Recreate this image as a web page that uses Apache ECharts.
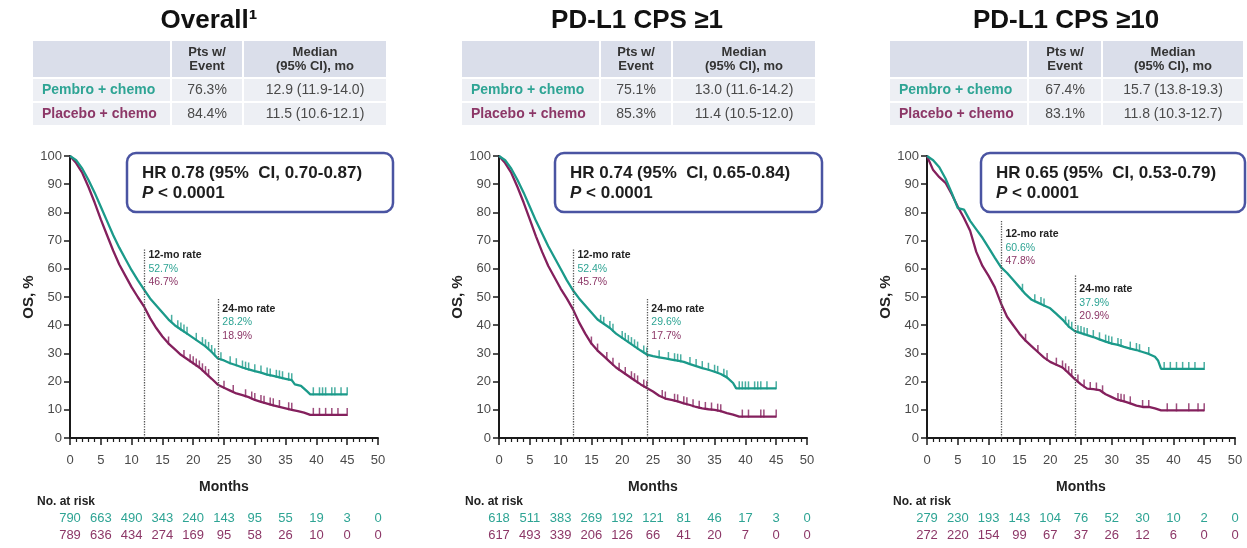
<!DOCTYPE html>
<html>
<head>
<meta charset="utf-8">
<script src="https://cdn.jsdelivr.net/npm/echarts@6/dist/echarts.min.js"></script>
<style>
  html, body { margin: 0; background: #fff; }
  #chart { width: 1247px; height: 548px; }
</style>
</head>
<body>
<div id="chart"></div>
<script>
// ---- data ----
const titles = ["Overall\u00b9", "PD-L1 CPS \u22651", "PD-L1 CPS \u226510"];
const armNames = ["Pembro + chemo", "Placebo + chemo"];
const ptsEvent = [["76.3%", "84.4%"], ["75.1%", "85.3%"], ["67.4%", "83.1%"]];
const medians = [
  ["12.9 (11.9-14.0)", "11.5 (10.6-12.1)"],
  ["13.0 (11.6-14.2)", "11.4 (10.5-12.0)"],
  ["15.7 (13.8-19.3)", "11.8 (10.3-12.7)"]
];
const hrLines = [
  "HR 0.78 (95%  CI, 0.70-0.87)",
  "HR 0.74 (95%  CI, 0.65-0.84)",
  "HR 0.65 (95%  CI, 0.53-0.79)"
];
const pValue = "< 0.0001";
const rate12 = [["52.7%", "46.7%"], ["52.4%", "45.7%"], ["60.6%", "47.8%"]];
const rate24 = [["28.2%", "18.9%"], ["29.6%", "17.7%"], ["37.9%", "20.9%"]];

const riskPembro = [
  [790, 663, 490, 343, 240, 143, 95, 55, 19, 3, 0],
  [618, 511, 383, 269, 192, 121, 81, 46, 17, 3, 0],
  [279, 230, 193, 143, 104, 76, 52, 30, 10, 2, 0]
];
const riskPlacebo = [
  [789, 636, 434, 274, 169, 95, 58, 26, 10, 0, 0],
  [617, 493, 339, 206, 126, 66, 41, 20, 7, 0, 0],
  [272, 220, 154, 99, 67, 37, 26, 12, 6, 0, 0]
];

// KM curves [month, OS %]
const pembroOverall = [[0,100],[1,98.5],[2,95.5],[3,91.5],[4,87],[5,82],[6,77],[7,72],[8,67.5],[9,63.5],[10,59.5],[11,56],[12,52.7],[13,49.5],[14,47],[15,44.5],[16,42],[17,40],[18,38.5],[19,37],[20,35.5],[21,34],[22,32.5],[23,30.5],[24,28.2],[25,27.5],[26,26.5],[27,25.8],[28,25],[29,24.3],[30,23.7],[31,23.2],[32,22.5],[33,22],[34,21.5],[35,21],[36,20.5],[36.5,19],[37.5,18.5],[38.5,16.5],[39,15.5],[45,15.5]];
const placeboOverall = [[0,100],[1,97.5],[2,94],[3,89],[4,83.5],[5,77.5],[6,72],[7,66.5],[8,61.5],[9,57.5],[10,53.5],[11,50],[12,46.7],[13,42.5],[14,39],[15,36],[16,33.5],[17,31.5],[18,29.5],[19,28],[20,26.5],[21,25],[22,23],[23,21],[24,18.9],[25,17.8],[26,16.8],[27,15.8],[28,15.2],[29,14.5],[30,13.5],[31,12.8],[32,12.2],[33,11.6],[34,11],[35,10.5],[36,10],[37,9.5],[38,9],[39,8.2],[45,8.2]];
const pembroCps1 = [[0,100],[1,98.5],[2,95.5],[3,91.5],[4,87],[5,82],[6,77],[7,72.5],[8,68],[9,64],[10,60],[11,56],[12,52.4],[13,49.5],[14,47],[15,44.5],[16,42],[17,40.5],[18,39],[19,37],[20,35.5],[21,34],[22,32.5],[23,31],[24,29.6],[25,29],[26,28.6],[27,28.2],[28,27.8],[29,27.4],[30,27],[31,26.2],[32,25.5],[33,24.8],[34,24.2],[35,23.5],[36,22.7],[37,21.5],[38,19.5],[38.5,17.6],[45,17.6]];
const placeboCps1 = [[0,100],[1,97.5],[2,94],[3,89],[4,83.5],[5,77.5],[6,71.5],[7,66],[8,61],[9,57],[10,53],[11,49.5],[12,45.7],[13,41],[14,37],[15,33.5],[16,31],[17,29],[18,27],[19,25],[20,23.5],[21,22],[22,20.5],[23,19],[24,17.7],[25,16.5],[26,15],[27,14],[28,13.5],[29,13],[30,12.3],[31,11.7],[32,11],[33,10.5],[34,10.2],[35,10],[36,9.5],[37,8.8],[38,8.3],[39,7.6],[45,7.6]];
const pembroCps10 = [[0,100],[1,98.5],[2,96],[3,92],[4,87],[5,81.5],[6,81],[7,77],[8,74],[9,71],[10,67.5],[11,64],[12,60.6],[13,58.5],[14,56],[15,53.5],[16,51],[17,49],[18,48],[19,47],[20,46],[21,44],[22,42],[23,39.5],[24,37.9],[25,37.2],[26,36.5],[27,35.8],[28,35],[29,34.2],[30,33.5],[31,33],[32,32.3],[33,31.7],[34,31.2],[35,30.5],[36,29.8],[37,28.8],[37.5,27.5],[38,24.5],[45,24.5]];
const placeboCps10 = [[0,100],[1,95],[2,92.5],[3,90.5],[4,86.5],[5,82],[6,78],[7,73.5],[8,66],[9,61],[10,57.5],[11,53.5],[12,47.8],[13,43],[14,40],[15,37],[16,34.5],[17,32.5],[18,30.5],[19,28.5],[20,27],[21,26],[22,25],[23,23],[24,20.9],[25,19],[26,17.5],[27,17.3],[28,17],[29,15.5],[30,14.5],[31,13.5],[32,13],[33,12.3],[34,11.5],[35,11],[36,11],[37,10.5],[38,9.8],[45,9.8]];

// censor marks [month, OS %]
const pembroOverallCens = [[16.5,41.2],[17.5,39.3],[18,38.5],[18.5,37.8],[19,37],[20.5,34.8],[21.5,33.3],[22,32.5],[22.5,31.6],[23,30.5],[23.5,29.3],[24.5,27.9],[26,26.5],[27,25.8],[28,25],[28.5,24.6],[29,24.3],[30,23.7],[31,23.2],[32,22.5],[32.5,22.2],[33.5,21.7],[34,21.5],[34.5,21.2],[35.5,20.7],[36,20.5],[39.5,15.5],[40.5,15.5],[41,15.5],[41.5,15.5],[42.5,15.5],[43,15.5],[44,15.5],[45,15.5]];
const placeboOverallCens = [[16,33.5],[18.5,28.7],[19.5,27.2],[20,26.5],[20.5,25.7],[21,25],[21.5,24],[22,23],[22.5,22],[25,17.8],[26.5,16.3],[28.5,14.8],[29.5,14],[30,13.5],[31,12.8],[31.5,12.5],[32.5,11.9],[33,11.6],[34,11],[35.5,10.2],[36,10],[39.5,8.2],[40.5,8.2],[41.5,8.2],[42.5,8.2],[43.5,8.2],[45,8.2]];
const pembroCps1Cens = [[16.5,41.2],[17,40.5],[18,39],[18.5,38],[20,35.5],[20.5,34.8],[21,34],[21.5,33.3],[22,32.5],[22.5,31.7],[23.5,30.3],[24,29.6],[26,28.6],[27.5,28],[28.5,27.6],[29,27.4],[29.5,27.2],[31,26.2],[32,25.5],[33,24.8],[34,24.2],[35,23.5],[35.5,23.1],[36.5,22.1],[37,21.5],[39,17.6],[39.5,17.6],[40,17.6],[40.5,17.6],[41.5,17.6],[42,17.6],[42.5,17.6],[43.5,17.6],[45,17.6]];
const placeboCps1Cens = [[15,33.5],[16,31],[17.5,28],[18.5,26],[19.5,24.2],[20.5,22.7],[21.5,21.2],[22,20.5],[22.5,19.7],[23.5,18.3],[24,17.7],[26.5,14.5],[27,14],[28.5,13.2],[29,13],[30,12.3],[30.5,12],[31.5,11.3],[32.5,10.7],[33.5,10.3],[34.5,10.1],[35.5,9.7],[36,9.5],[39.5,7.6],[40.5,7.6],[42.5,7.6],[43,7.6],[45,7.6]];
const pembroCps10Cens = [[15.5,52.2],[17.5,48.5],[18.5,47.5],[19,47],[22.5,40.7],[23,39.5],[23.5,38.7],[24.5,37.5],[25,37.2],[25.5,36.8],[26,36.5],[27,35.8],[28,35],[29,34.2],[29.5,33.8],[30,33.5],[31,33],[31.5,32.6],[33,31.7],[34,31.2],[34.5,30.8],[36,29.8],[38.5,24.5],[39.5,24.5],[40.5,24.5],[41.5,24.5],[42.5,24.5],[43.5,24.5],[45,24.5]];
const placeboCps10Cens = [[16,34.5],[18,30.5],[19.5,27.7],[21,26],[22,25],[22.5,24],[23,23],[23.5,22],[24.5,20],[25.5,18.3],[26.5,17.4],[27.5,17.2],[28.5,16.2],[31,13.5],[31.5,13.2],[32,13],[33,12.3],[35,11],[36,11],[39,9.8],[40.5,9.8],[42.5,9.8],[44,9.8],[45,9.8]];

const pembroCurves = [pembroOverall, pembroCps1, pembroCps10];
const placeboCurves = [placeboOverall, placeboCps1, placeboCps10];
const pembroCens = [pembroOverallCens, pembroCps1Cens, pembroCps10Cens];
const placeboCens = [placeboOverallCens, placeboCps1Cens, placeboCps10Cens];

// ---- styling / layout ----
const TEAL = "#1b9a8a", MAROON = "#84205d";
const TEAL_TXT = "#2ea494", MAROON_TXT = "#8c3767";
const FONT = '"Liberation Sans", Arial, sans-serif';
const AXIS = "#1a1a1a", LABEL = "#4a4a4a";

const layout = [
  { left: 70,  title: 209,  table: [33, 171, 243, 386],   box: [127, 153, 266, 59], riskX: 37,  ann: [67, 60, 49.5, 41] },
  { left: 499, title: 637,  table: [462, 600, 672, 815],  box: [555, 153, 267, 59], riskX: 465, ann: [67, 60, 49.5, 41] },
  { left: 927, title: 1066, table: [890, 1028, 1102, 1243], box: [981, 153, 264, 59], riskX: 893, ann: [77.5, 67.5, 58, 48] }
];

const grids = [], xAxes = [], yAxes = [], series = [], graphics = [];

function riskAxis(i, values, color, offset) {
  return {
    type: "value", gridIndex: i, position: "bottom", offset: offset,
    min: 0, max: 50, interval: 5,
    axisLine: { show: false }, axisTick: { show: false }, splitLine: { show: false },
    axisLabel: {
      margin: 0, color: color, fontSize: 13, fontFamily: FONT,
      formatter: v => { const n = values[Math.round(v / 5)]; return n === undefined ? "" : String(n); }
    }
  };
}

layout.forEach((l, i) => {
  grids.push({ left: l.left, top: 156, width: 308, height: 282, outerBoundsMode: "none" });

  xAxes.push({
    type: "value", gridIndex: i, min: 0, max: 50, interval: 5,
    name: "Months", nameLocation: "middle", nameGap: 42,
    nameTextStyle: { fontFamily: FONT, fontWeight: "bold", fontSize: 14, color: "#222" },
    axisLine: { lineStyle: { color: AXIS, width: 2 } },
    axisTick: { length: 7, lineStyle: { color: AXIS, width: 1.5 } },
    minorTick: { show: true, splitNumber: 5, length: 4, lineStyle: { color: AXIS, width: 1.2 } },
    splitLine: { show: false },
    axisLabel: { margin: 16, fontSize: 13, fontFamily: FONT, color: LABEL }
  });
  xAxes.push(riskAxis(i, riskPembro[i], TEAL_TXT, 74));
  xAxes.push(riskAxis(i, riskPlacebo[i], MAROON_TXT, 91));

  yAxes.push({
    type: "value", gridIndex: i, min: 0, max: 100, interval: 10,
    name: "OS, %", nameLocation: "middle", nameGap: 34,
    nameTextStyle: { fontFamily: FONT, fontWeight: "bold", fontSize: 15, color: "#222" },
    axisLine: { show: true, lineStyle: { color: AXIS, width: 2 } },
    axisTick: { show: true, length: 6, lineStyle: { color: AXIS, width: 1.5 } },
    splitLine: { show: false },
    axisLabel: { margin: 8, fontSize: 13, fontFamily: FONT, color: LABEL }
  });

  const a = l.ann;
  const annLabel = (head, vals) => `{h|${head}}\n{t|${vals[0]}}\n{p|${vals[1]}}`;

  series.push({
    type: "line", xAxisIndex: 3 * i, yAxisIndex: i, data: pembroCurves[i],
    showSymbol: false, z: 4, lineStyle: { color: TEAL, width: 2.3 }, itemStyle: { color: TEAL },
    markLine: {
      silent: true, symbol: ["none", "none"], label: { show: false },
      lineStyle: { type: "dotted", color: "#555", width: 1.3 },
      data: [
        [{ coord: [12, 0] }, { coord: [12, a[0]] }],
        [{ coord: [24, 0] }, { coord: [24, a[2]] }]
      ]
    },
    markPoint: {
      silent: true, symbol: "circle", symbolSize: 1, itemStyle: { color: "rgba(0,0,0,0)" },
      label: {
        show: true, position: "right", distance: 4,
        rich: {
          h: { fontFamily: FONT, fontWeight: "bold", fontSize: 10.5, color: "#222", lineHeight: 13.5 },
          t: { fontFamily: FONT, fontSize: 10.5, color: TEAL_TXT, lineHeight: 13.5 },
          p: { fontFamily: FONT, fontSize: 10.5, color: MAROON_TXT, lineHeight: 13.5 }
        }
      },
      data: [
        { coord: [12, a[1]], label: { formatter: annLabel("12-mo rate", rate12[i]) } },
        { coord: [24, a[3]], label: { formatter: annLabel("24-mo rate", rate24[i]) } }
      ]
    }
  });
  series.push({
    type: "line", xAxisIndex: 3 * i, yAxisIndex: i, data: placeboCurves[i],
    showSymbol: false, z: 3, lineStyle: { color: MAROON, width: 2.3 }, itemStyle: { color: MAROON }
  });
  series.push({
    type: "scatter", xAxisIndex: 3 * i, yAxisIndex: i, data: pembroCens[i], z: 4,
    symbol: "rect", symbolSize: [1.5, 8], symbolOffset: [0, -3], itemStyle: { color: TEAL }
  });
  series.push({
    type: "scatter", xAxisIndex: 3 * i, yAxisIndex: i, data: placeboCens[i], z: 3,
    symbol: "rect", symbolSize: [1.5, 8], symbolOffset: [0, -3], itemStyle: { color: MAROON }
  });

  // title
  graphics.push({
    type: "text", x: l.title, y: 21,
    style: { text: titles[i], font: "bold 26px " + FONT, fill: "#111",
      textAlign: "center", align: "center", textVerticalAlign: "middle", verticalAlign: "middle" }
  });

  // table
  const t = l.table;
  const cols = [[t[0], t[1] - 1], [t[1] + 1, t[2] - 1], [t[2] + 1, t[3]]];
  const rows = [[41, 77], [79, 101], [103, 125]];
  rows.forEach((r, ri) => {
    cols.forEach(c => {
      graphics.push({
        type: "rect", shape: { x: c[0], y: r[0], width: c[1] - c[0], height: r[1] - r[0] },
        style: { fill: ri === 0 ? "#dadeea" : "#edeff4" }, silent: true
      });
    });
  });
  const cx = c => (c[0] + c[1]) / 2;
  const cellText = (x, y, text, font, fill, align) => ({
    type: "text", x: x, y: y, z: 10,
    style: { text: text, font: font, fill: fill, lineHeight: 14,
      textAlign: align, align: align, textVerticalAlign: "middle", verticalAlign: "middle" }
  });
  graphics.push(cellText(cx(cols[1]), 59, "Pts w/\nEvent", "bold 13px " + FONT, "#333", "center"));
  graphics.push(cellText(cx(cols[2]), 59, "Median\n(95% CI), mo", "bold 13px " + FONT, "#333", "center"));
  [TEAL_TXT, MAROON_TXT].forEach((col, k) => {
    const y = (rows[k + 1][0] + rows[k + 1][1]) / 2;
    graphics.push(cellText(t[0] + 9, y, armNames[k], "bold 14px " + FONT, col, "left"));
    graphics.push(cellText(cx(cols[1]), y, ptsEvent[i][k], "14px " + FONT, "#4a4a4a", "center"));
    graphics.push(cellText(cx(cols[2]), y, medians[i][k], "14px " + FONT, "#4a4a4a", "center"));
  });

  // HR box
  const b = l.box;
  graphics.push({
    type: "rect", z: 10, shape: { x: b[0], y: b[1], width: b[2], height: b[3], r: 9 },
    style: { fill: "#fff", stroke: "#4a54a2", lineWidth: 2.5 }
  });
  graphics.push({
    type: "text", z: 11, x: b[0] + 15, y: b[1] + 10,
    style: {
      text: `{b|${hrLines[i]}}\n{i|P }{b|${pValue}}`,
      textVerticalAlign: "top", verticalAlign: "top",
      rich: {
        b: { fontFamily: FONT, fontWeight: "bold", fontSize: 17, fill: "#1e1e1e", lineHeight: 20 },
        i: { fontFamily: FONT, fontWeight: "bold", fontStyle: "italic", fontSize: 17, fill: "#1e1e1e", lineHeight: 20 }
      }
    }
  });

  graphics.push({
    type: "text", x: l.riskX, y: 502,
    style: { text: "No. at risk", font: "bold 12px " + FONT, fill: "#222",
      textVerticalAlign: "middle", verticalAlign: "middle" }
  });
});

const chart = echarts.init(document.getElementById("chart"));
chart.setOption({
  animation: false,
  backgroundColor: "#fff",
  grid: grids,
  xAxis: xAxes,
  yAxis: yAxes,
  series: series,
  graphic: { elements: graphics }
});
</script>
</body>
</html>
